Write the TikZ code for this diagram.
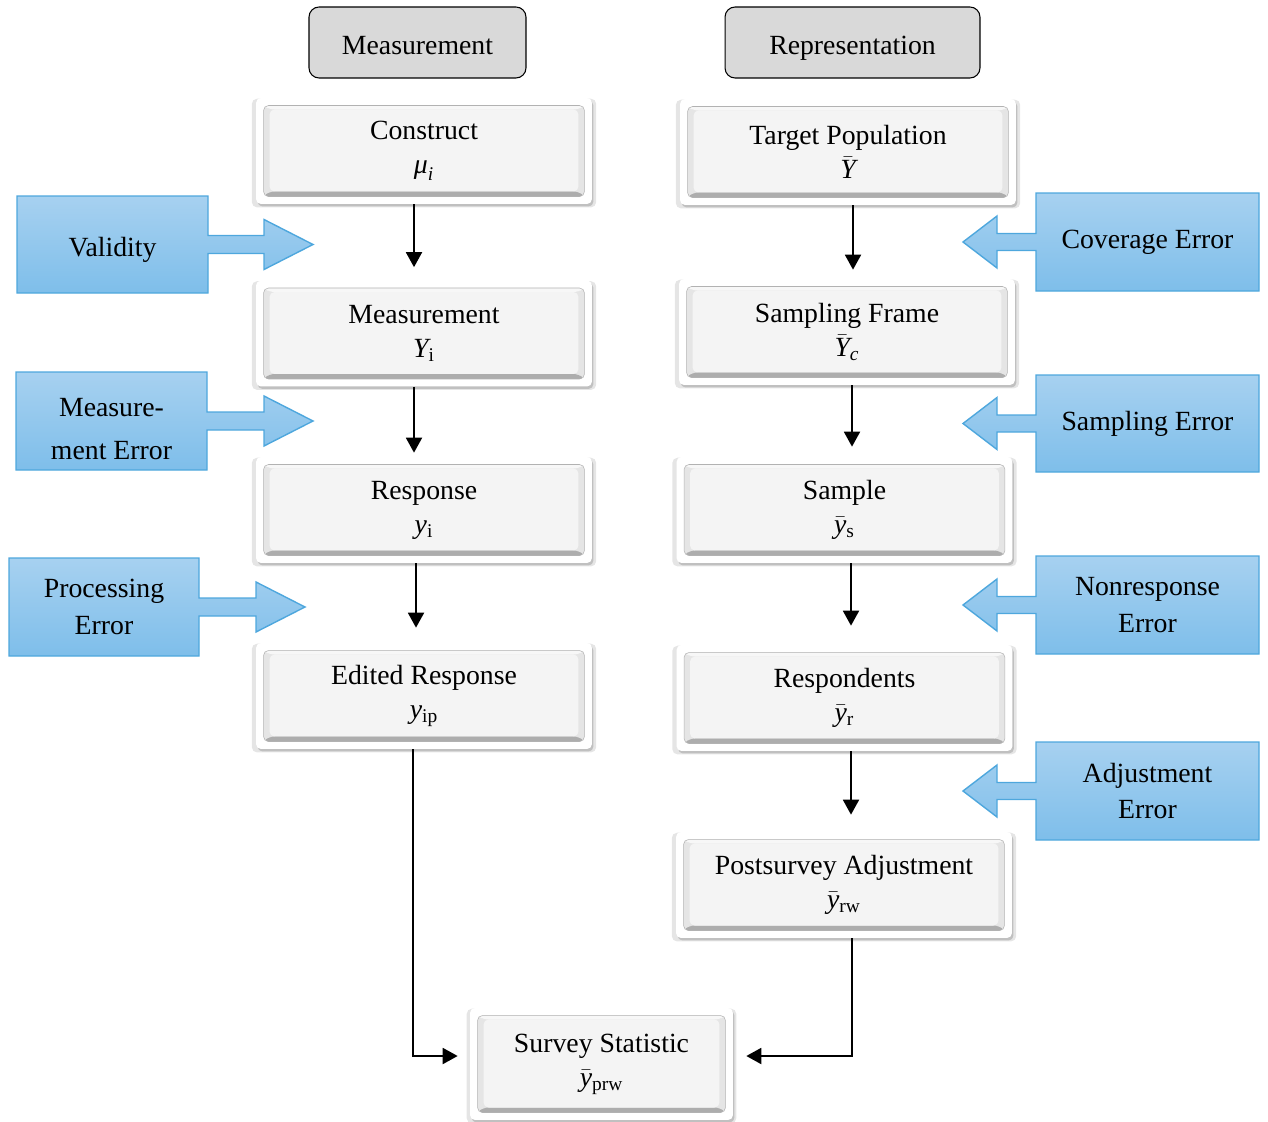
\documentclass[tikz,border=0pt]{standalone}
\usepackage{fontspec}
\setmainfont{Liberation Serif}
\usetikzlibrary{calc,arrows.meta,shadows}
\definecolor{errtop}{RGB}{167,209,240}
\definecolor{errbot}{RGB}{126,190,234}
\definecolor{errline}{RGB}{78,167,221}
\definecolor{face}{RGB}{244,244,244}
\definecolor{headfill}{RGB}{217,217,217}
\tikzset{
  sbox/.style={rectangle,rounded corners=0.1cm,fill=white,align=center,
    minimum width=6.72cm,minimum height=2.12cm,
    general shadow={fill=black,opacity=0.10,shadow scale=1.025,shadow yshift=-0.04cm},
    general shadow={fill=black,opacity=0.16,shadow xshift=0.03cm,shadow yshift=-0.05cm},
    path picture={
      \coordinate (pa) at ($(path picture bounding box.south west)+(0.15cm,0.15cm)$);
      \coordinate (pb) at ($(path picture bounding box.north east)+(-0.15cm,-0.15cm)$);
      \fill[black!10] (pa) rectangle (pb);
      \fill[black!32] (pa) -- (pa -| pb) -- ($(pa -| pb)+(-0.12cm,0.1cm)$)
        -- ($(pa)+(0.12cm,0.1cm)$) -- cycle;
      \fill[black!3] (pb) -- (pb -| pa) -- ($(pb -| pa)+(0.12cm,-0.08cm)$)
        -- ($(pb)+(-0.12cm,-0.08cm)$) -- cycle;
      \fill[face] ($(pa)+(0.12cm,0.1cm)$) rectangle ($(pb)+(-0.12cm,-0.08cm)$);
      \draw[black!30,line width=0.3pt] (pa) rectangle (pb);}},
  shead/.style={draw=black,fill=headfill,rounded corners=0.2cm,line width=0.6pt,
    minimum height=1.42cm,text height=14pt,text depth=0pt},
  serr/.style={top color=errtop,bottom color=errbot,draw=errline,line width=0.8pt},
  serrtext/.style={align=center,font=\fontsize{15.8}{21}\selectfont},
  sflow/.style={-{Triangle[length=0.3cm,width=0.32cm]},line width=1.1pt},
}

\begin{document}
\begin{tikzpicture}[x=0.02cm,y=-0.02cm,font=\fontsize{15.8}{19.4}\selectfont]
  \useasboundingbox (0,0) rectangle (1268,1122);
  % column headers
  \node[shead,minimum width=4.34cm] (hmeas) at (417.5,42.5) {Measurement};
  \node[shead,minimum width=5.1cm] (hrep) at (852.5,42.5) {Representation};
  % measurement side
  \node[sbox] (construct) at (424,151) {Construct\\$\textit{μ}_{\mathit{i}}$};
  \node[sbox] (measure) at (424,333.5) {Measurement\\$\mathit{Y}_{\mathrm{i}}$};
  \node[sbox] (response) at (424,510) {Response\\$\mathit{y}_{\mathrm{i}}$};
  \node[sbox] (edited) at (424,696) {Edited Response\\$\mathit{y}_{\mathrm{ip}}$};
  % representation side
  \node[sbox] (target) at (848,152) {Target Population\\$\bar{\mathit{Y}}$};
  \node[sbox] (frame) at (847,332) {Sampling Frame\\$\bar{\mathit{Y}}_{\mathit{c}}$};
  \node[sbox] (sample) at (844.5,510) {Sample\\$\bar{\mathit{y}}_{\mathrm{s}}$};
  \node[sbox] (respondents) at (844.5,698) {Respondents\\$\bar{\mathit{y}}_{\mathrm{r}}$};
  \node[sbox] (postsurvey) at (844,885) {Postsurvey Adjustment\\$\bar{\mathit{y}}_{\mathrm{rw}}$};
  \node[sbox,minimum width=5.26cm,minimum height=2.24cm] (statistic) at (601.5,1064)
    {Survey Statistic\\$\bar{\mathit{y}}_{\mathrm{prw}}$};
  % flow arrows
  \foreach \a/\b/\dx/\sh in {construct/measure/-0.2cm/0.26cm,measure/response/-0.2cm/0.08cm,
      response/edited/-0.16cm/0.3cm,target/frame/0.1cm/0.18cm,frame/sample/0.1cm/0.2cm,
      sample/respondents/0.13cm/0.38cm,respondents/postsurvey/0.13cm/0.34cm}
    \draw[sflow,shorten >=\sh] ([xshift=\dx]\a.south) -- ([xshift=\dx]\a.south |- \b.north);
  \draw[sflow,shorten >=0.24cm] ([xshift=-0.22cm]edited.south) |- ([yshift=0.16cm]statistic.west);
  \draw[sflow,shorten >=0.26cm] ([xshift=0.16cm]postsurvey.south) |- ([yshift=0.16cm]statistic.east);
  % error callouts, left
  \foreach \nm/\l/\t/\r/\b/\tx/\dy/\lab in {validity/17/196/208/293/313/5/{Validity},
      measerr/16/372/207/470/313/8/{Measure-\\[3.4pt]ment Error},
      procerr/9/558/199/656/305/0/{Processing\\Error}} {
    \pgfmathsetmacro{\my}{(\t+\b)/2}
    \shade[serr] (\l,\t) -- (\r,\t) -- (\r,\my-9) -- (\tx-49,\my-9) -- (\tx-49,\my-25)
      -- (\tx,\my) -- (\tx-49,\my+25) -- (\tx-49,\my+9) -- (\r,\my+9) -- (\r,\b)
      -- (\l,\b) -- cycle;
    \node[serrtext] (\nm) at ({(\l+\r)/2},\my+\dy) {\lab};}
  % error callouts, right
  \foreach \nm/\t/\b/\lab in {coverr/193/291/{Coverage Error},samperr/375/472/{Sampling Error},
      nonresp/556/654/{Nonresponse\\Error},adjerr/742/840/{Adjustment\\Error}} {
    \pgfmathsetmacro{\my}{(\t+\b)/2}
    \shade[serr] (1036,\t) -- (1259,\t) -- (1259,\b) -- (1036,\b) -- (1036,\my+8.5)
      -- (997,\my+8.5) -- (997,\my+26) -- (963,\my) -- (997,\my-26) -- (997,\my-8.5)
      -- (1036,\my-8.5) -- cycle;
    \node[serrtext] (\nm) at (1147.5,\my) {\lab};}
\end{tikzpicture}
\end{document}
